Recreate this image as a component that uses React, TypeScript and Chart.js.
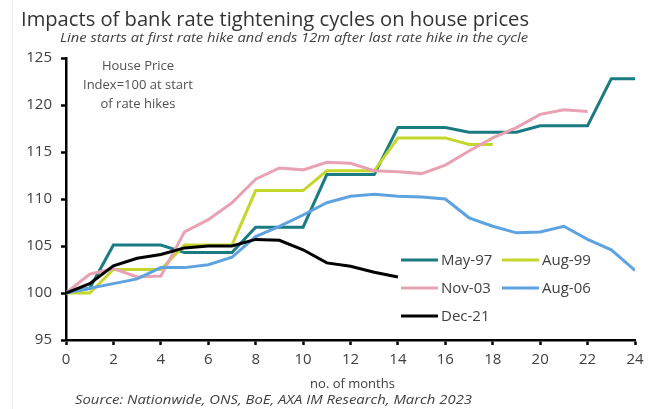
import React, { useEffect, useRef } from "react";
import { Chart, registerables } from "chart.js";

Chart.register(...registerables);

const months = [0, 1, 2, 3, 4, 5, 6, 7, 8, 9, 10, 11, 12, 13, 14, 15, 16, 17, 18, 19, 20, 21, 22, 23, 24];

const may97 = [100, 100.5, 105.1, 105.1, 105.1, 104.3, 104.3, 104.3, 107.0, 107.0, 107.0, 112.6, 112.6, 112.6, 117.6, 117.6, 117.6, 117.1, 117.1, 117.1, 117.8, 117.8, 117.8, 122.8, 122.8];
const aug99 = [100, 100, 102.5, 102.5, 102.5, 105.1, 105.1, 105.1, 110.9, 110.9, 110.9, 113.0, 113.0, 113.0, 116.5, 116.5, 116.5, 115.8, 115.8];
const nov03 = [100, 102.0, 102.6, 101.7, 101.8, 106.5, 107.8, 109.6, 112.1, 113.3, 113.1, 113.9, 113.8, 113.0, 112.9, 112.7, 113.6, 115.1, 116.5, 117.6, 119.0, 119.5, 119.3];
const aug06 = [100, 100.5, 101.0, 101.5, 102.7, 102.7, 103.0, 103.8, 106.0, 107.1, 108.3, 109.6, 110.3, 110.5, 110.3, 110.2, 110.0, 108.0, 107.1, 106.4, 106.5, 107.1, 105.7, 104.6, 102.4];
const dec21 = [100, 101.0, 102.9, 103.7, 104.1, 104.8, 105.0, 105.0, 105.7, 105.6, 104.6, 103.2, 102.85, 102.2, 101.7];

const seriesNames = ["May-97", "Aug-99", "Nov-03", "Aug-06", "Dec-21"];
const seriesValues = [may97, aug99, nov03, aug06, dec21];
const seriesColors = ["#1a7b82", "#c4d62a", "#e9a2b4", "#5ea3e0", "#000000"];

const titleText = "Impacts of bank rate tightening cycles on house prices";
const subtitleText = "Line starts at first rate hike and ends 12m after last rate hike in the cycle";
const noteLines = ["House Price", "Index=100 at start", "of rate hikes"];
const xTitleText = "no. of months";
const sourceText = "Source: Nationwide, ONS, BoE, AXA IM Research, March 2023";

const FONT = "'Open Sans', 'Liberation Sans', sans-serif";
const TEXT = "#404040";

function fitText(ctx: any, text: string, x: number, y: number, width: number) {
  const w = ctx.measureText(text).width;
  const sx = width / w;
  ctx.save();
  ctx.translate(x, y);
  ctx.scale(sx, 1);
  ctx.fillText(text, 0, 0);
  ctx.restore();
}

const overlayPlugin = {
  id: "overlay",
  afterDraw(chart: any) {
    const ctx = chart.ctx;
    const a = chart.chartArea;
    ctx.save();
    ctx.strokeStyle = "#ececec";
    ctx.lineWidth = 1;
    ctx.beginPath();
    ctx.moveTo(12.5, 0);
    ctx.lineTo(12.5, 409);
    ctx.stroke();

    ctx.fillStyle = "#333333";
    ctx.textBaseline = "alphabetic";
    ctx.textAlign = "left";
    ctx.font = `20px ${FONT}`;
    fitText(ctx, titleText, 21, 26, 508);

    ctx.fillStyle = TEXT;
    ctx.font = `italic 12.5px ${FONT}`;
    fitText(ctx, subtitleText, 60, 42, 468);

    ctx.fillStyle = "#505050";
    ctx.textAlign = "center";
    ctx.font = `13px ${FONT}`;
    const nx = a.left + 72;
    noteLines.forEach((t, i) => {
      ctx.fillText(t, nx, a.top + 12 + i * 19);
    });

    ctx.fillStyle = TEXT;
    ctx.font = `13px ${FONT}`;
    ctx.fillText(xTitleText, (a.left + a.right) / 2 + 2, 388);

    ctx.textAlign = "left";
    ctx.font = `italic 13px ${FONT}`;
    fitText(ctx, sourceText, 75, 404, 397);

    const cols = [a.left + 335, a.left + 436];
    const rows = [a.top + 202, a.top + 230, a.top + 258];
    ctx.font = `15px ${FONT}`;
    ctx.textBaseline = "middle";
    ctx.lineWidth = 3;
    seriesNames.forEach((name, i) => {
      const cx = cols[i % 2];
      const cy = rows[Math.floor(i / 2)];
      ctx.strokeStyle = seriesColors[i];
      ctx.beginPath();
      ctx.moveTo(cx, cy);
      ctx.lineTo(cx + 37, cy);
      ctx.stroke();
      ctx.fillStyle = TEXT;
      ctx.fillText(name, cx + 40, cy + 1);
    });
    ctx.restore();
  },
};

export default function App() {
  const ref = useRef<HTMLCanvasElement>(null);
  useEffect(() => {
    const canvas = ref.current;
    if (!canvas) return;
    const chart = new Chart(canvas, {
      type: "line",
      data: {
        datasets: seriesValues.map((vals, i) => ({
          label: seriesNames[i],
          data: vals.map((v, j) => ({ x: months[j], y: v })),
          borderColor: seriesColors[i],
          backgroundColor: seriesColors[i],
          borderWidth: 3,
          pointRadius: 0,
          tension: 0,
          order: seriesNames.length - i,
        })),
      },
      options: {
        responsive: false,
        animation: false,
        layout: { padding: { left: 0, right: 15, top: 58, bottom: 0 } },
        plugins: {
          legend: { display: false },
          tooltip: { enabled: false },
          title: { display: false },
        },
        scales: {
          x: {
            type: "linear",
            min: 0,
            max: 24,
            grid: { drawOnChartArea: false, drawTicks: true, tickLength: 5, tickColor: "#000", tickWidth: 2.5 },
            border: { color: "#000", width: 2.5 },
            ticks: { stepSize: 2, color: TEXT, font: { family: FONT, size: 15 }, padding: 6, maxRotation: 0 },
            afterFit: (s: any) => {
              s.height = 69;
            },
          },
          y: {
            min: 95,
            max: 125,
            grid: { drawOnChartArea: false, drawTicks: true, tickLength: 5, tickColor: "#000", tickWidth: 2.5 },
            border: { color: "#000", width: 2.5 },
            ticks: { stepSize: 5, color: TEXT, font: { family: FONT, size: 15 }, padding: 9 },
            afterFit: (s: any) => {
              s.width = 66;
            },
          },
        },
      },
      plugins: [overlayPlugin],
    });
    return () => chart.destroy();
  }, []);
  return (
    <div style={{ position: "absolute", left: 0, top: 0, width: 650, height: 409, background: "#fff" }}>
      <canvas ref={ref} width={650} height={409} style={{ width: 650, height: 409 }} />
    </div>
  );
}
